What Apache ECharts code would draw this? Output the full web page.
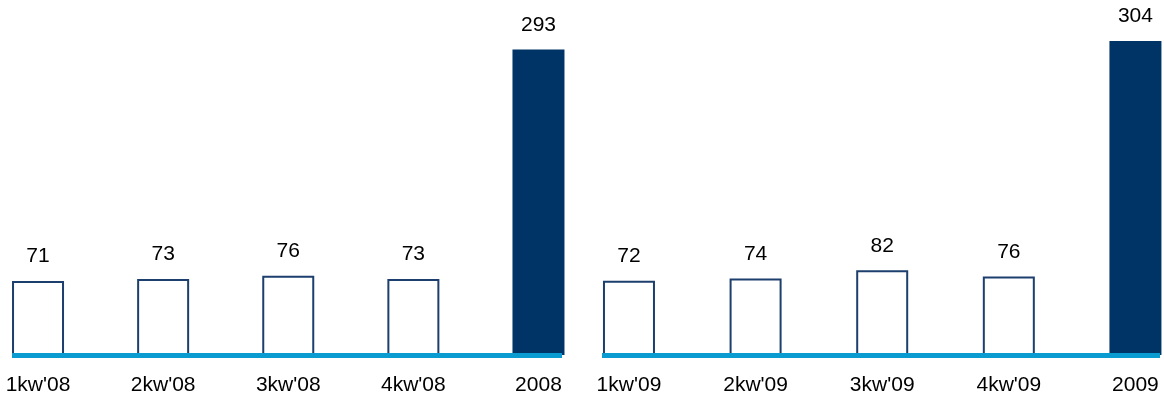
<!DOCTYPE html>
<html>
<head>
<meta charset="utf-8">
<script src="https://cdn.jsdelivr.net/npm/echarts@6/dist/echarts.min.js"></script>
<style>
  html, body { margin: 0; padding: 0; background: #fff; }
  #chart { width: 1164px; height: 396px; }
</style>
</head>
<body>
<div id="chart"></div>
<script>
// quarterly values, last bar is the full year
const labels2008 = ["1kw'08", "2kw'08", "3kw'08", "4kw'08", '2008']
const values2008 = [71, 73, 76, 73, 293]
const labels2009 = ["1kw'09", "2kw'09", "3kw'09", "4kw'09", '2009']
const values2009 = [72, 74, 82, 76, 304]

const font = 'Liberation Sans, Arial, sans-serif'
const navy = '#003366'
const outline = '#1d3f6e'
const baseline = '#0a9bd0'

const toItems = (values) => values.map((v, i) => {
  const isYear = i === values.length - 1
  return {
    value: [i, v],
    itemStyle: isYear
      ? { color: navy, borderColor: navy, borderWidth: 0 }
      : { color: '#ffffff', borderColor: outline, borderWidth: 2 }
  }
})

const makeX = (gridIndex, labels, min, max) => ({
  type: 'value',
  gridIndex,
  min,
  max,
  z: 5,
  splitLine: { show: false },
  axisTick: { show: false },
  axisLine: { show: true, lineStyle: { color: baseline, width: 5, cap: 'butt' } },
  axisLabel: {
    customValues: [0, 1, 2, 3, 4],
    formatter: (v) => labels[Math.round(v)],
    margin: 20,
    fontSize: 21,
    fontFamily: font,
    color: '#000'
  }
})

const makeY = (gridIndex, max) => ({
  type: 'value',
  gridIndex,
  min: 0,
  max,
  show: false
})

const makeSeries = (idx, values) => ({
  type: 'bar',
  xAxisIndex: idx,
  yAxisIndex: idx,
  barWidth: 52,
  clip: false,
  data: toItems(values),
  label: {
    show: true,
    position: 'top',
    distance: 14,
    fontSize: 21,
    fontFamily: font,
    color: '#000',
    formatter: (p) => p.value[1]
  }
})

const chart = echarts.init(document.getElementById('chart'))
chart.setOption({
  animation: false,
  grid: [
    { left: 12, width: 550, top: 10, bottom: 41 },
    { left: 602, width: 558, top: 10, bottom: 41 }
  ],
  xAxis: [
    makeX(0, labels2008, -0.208, 4.188),
    makeX(1, labels2009, -0.213, 4.194)
  ],
  yAxis: [makeY(0, 331), makeY(1, 334)],
  series: [makeSeries(0, values2008), makeSeries(1, values2009)]
})
</script>
</body>
</html>
